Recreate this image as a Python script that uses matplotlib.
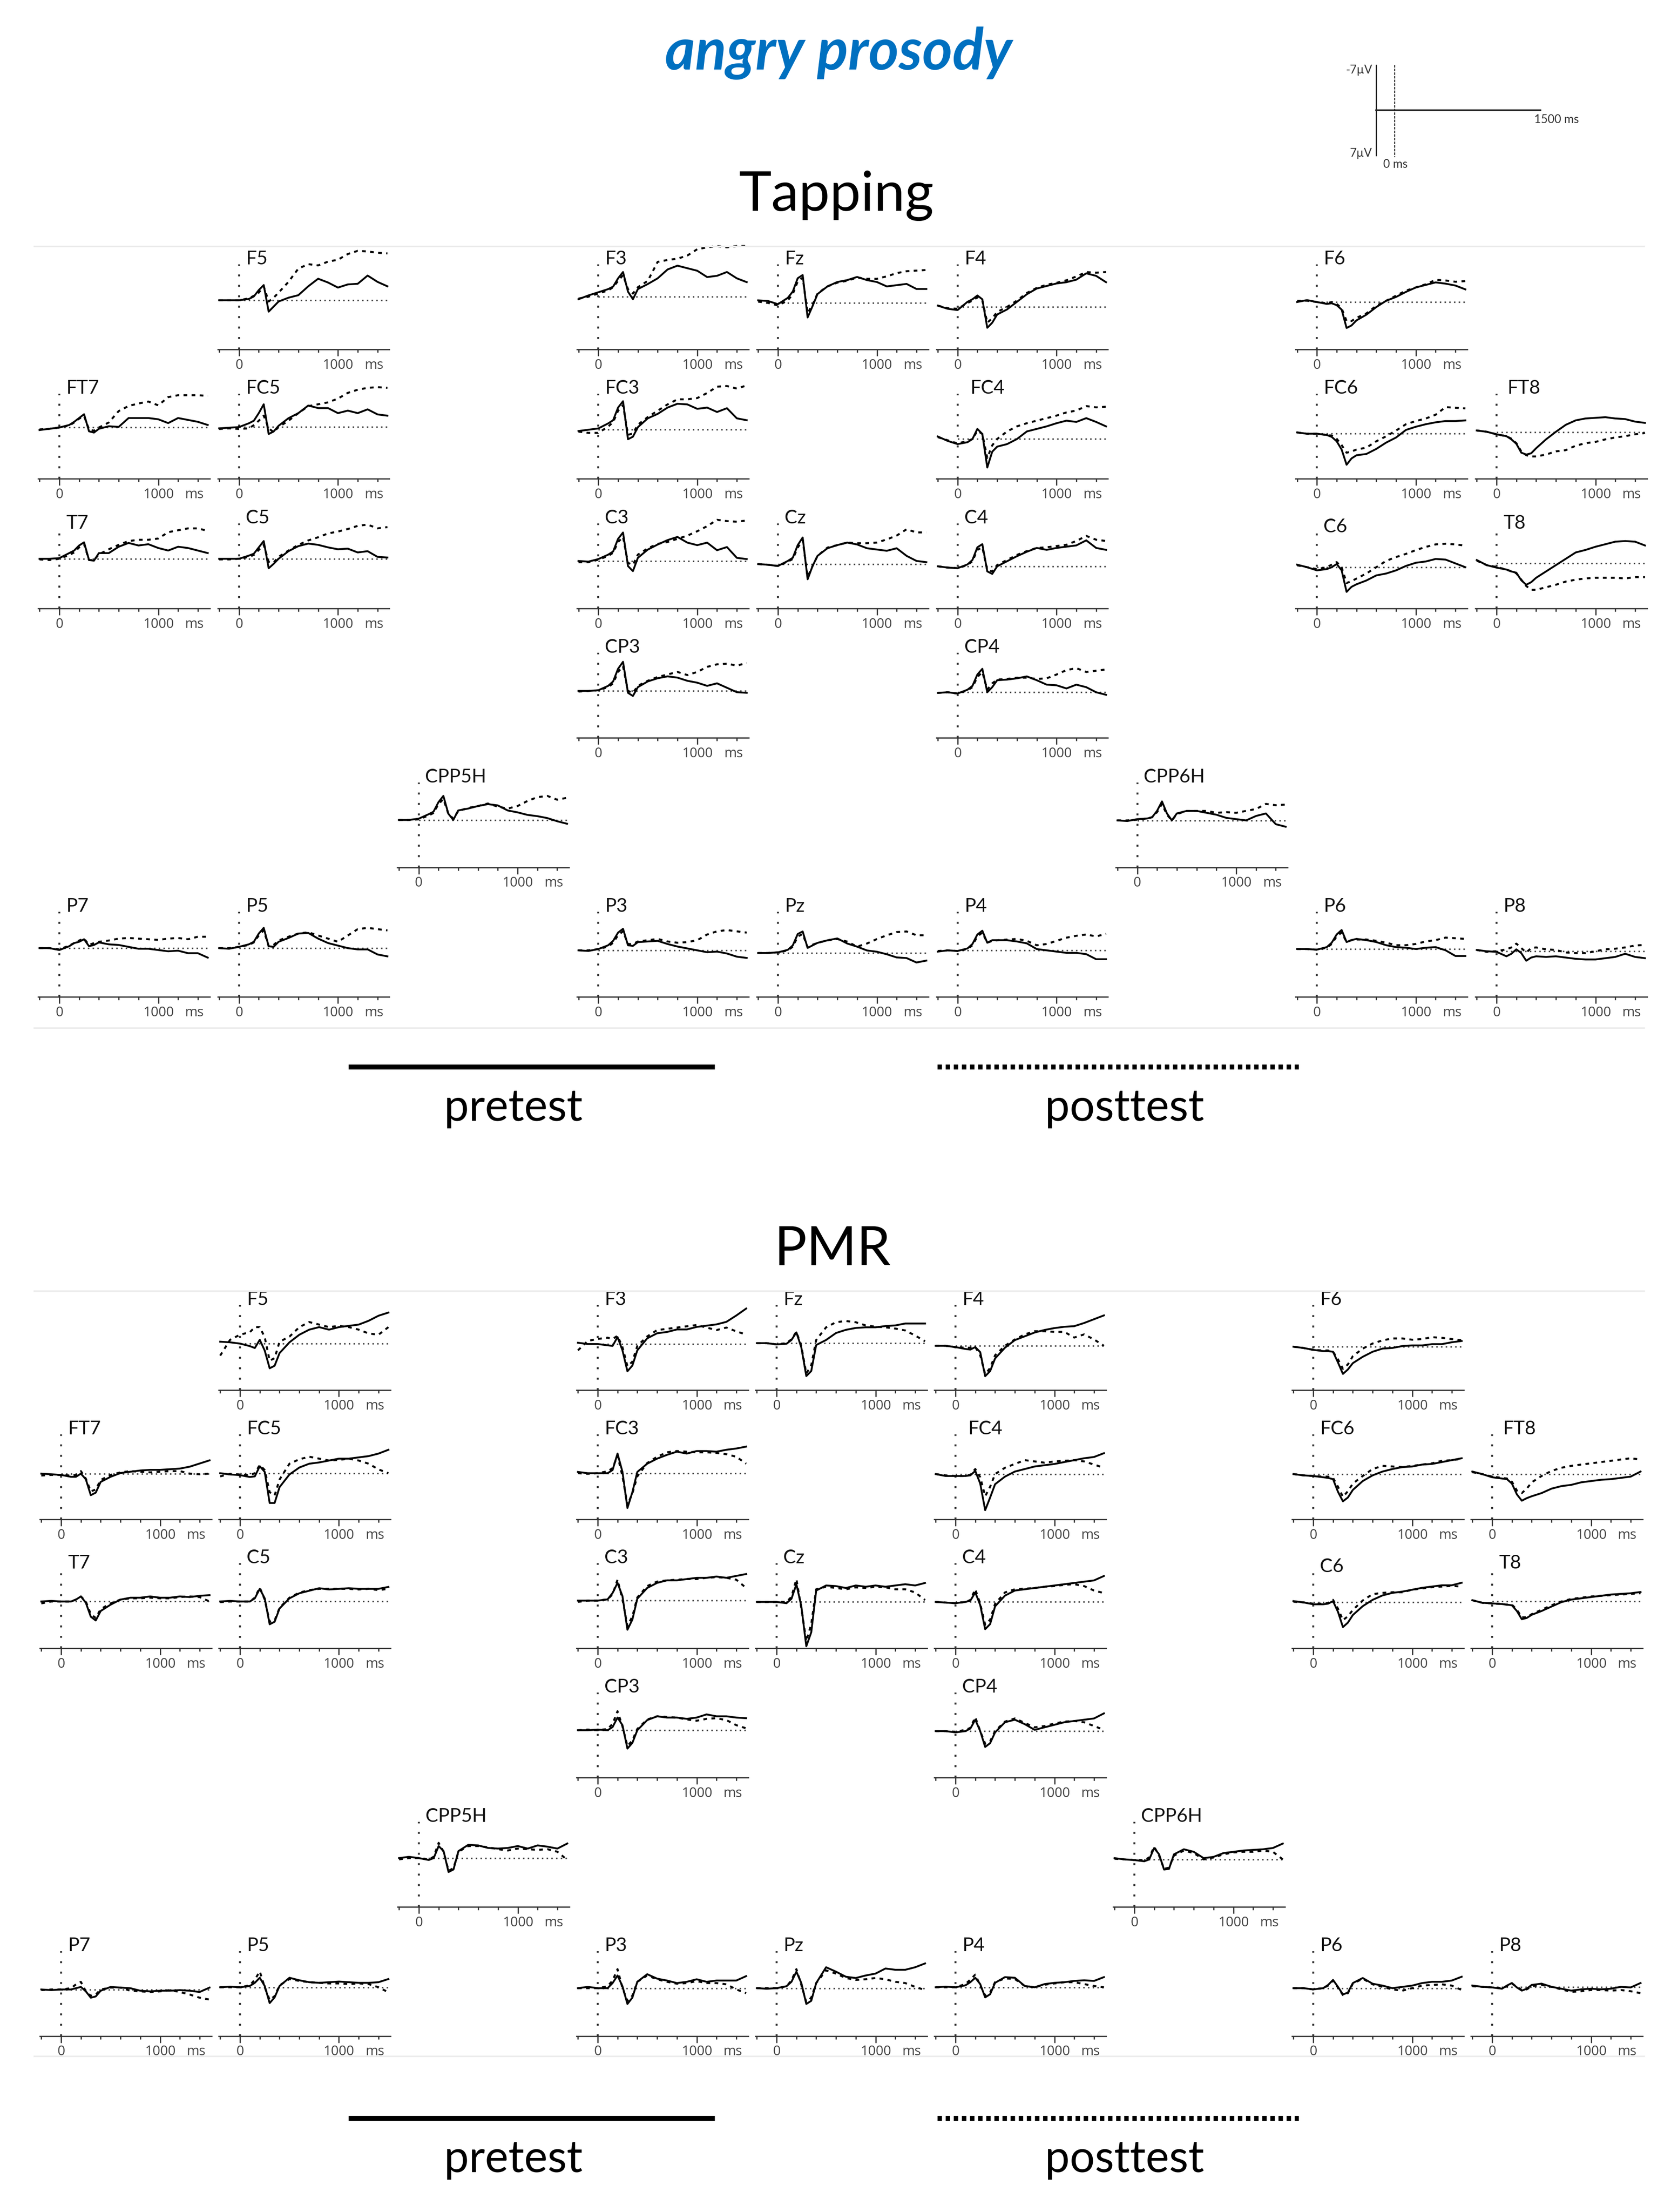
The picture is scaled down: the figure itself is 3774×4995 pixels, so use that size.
import matplotlib
matplotlib.use("Agg")
import matplotlib.pyplot as plt
from matplotlib.lines import Line2D

TIME_MS = [-200, -100, 0, 100, 150, 200, 250, 300, 350, 400, 500, 600,
           700, 800, 900, 1000, 1100, 1200, 1300, 1400, 1500]

# ---- Tapping, amplitudes in microvolt (negative plotted up) ----
TAP_F5_PRE = [0, 0, 0, -0.2, -0.6, -1.6, -2.4, 1.8, 1.0, 0.2, -0.4, -0.8, -2.2, -3.4, -2.8, -2.0, -2.5, -2.6, -3.9, -2.9, -2.2]
TAP_F5_POST = [0, 0, 0, -0.3, -0.7, -1.2, -2.2, 0.2, -0.4, -1.2, -2.9, -5.0, -5.7, -5.5, -6.1, -6.4, -7.3, -7.8, -7.7, -7.5, -7.4]
TAP_F3_PRE = [0.4, -0.2, -0.7, -1.2, -1.6, -2.9, -3.9, -0.8, 0.4, -1.2, -2.0, -2.9, -4.3, -4.9, -4.5, -4.1, -3.1, -3.3, -3.9, -2.9, -2.3]
TAP_F3_POST = [0.3, 0, -0.5, -1.0, -1.5, -2.5, -3.4, -1.2, -0.5, -1.5, -2.5, -5.5, -5.8, -6.0, -6.5, -7.5, -7.8, -8.0, -7.8, -8.0, -8.0]
TAP_FZ_PRE = [-0.4, -0.3, 0.2, -0.8, -1.8, -3.9, -4.4, 2.3, 0.5, -1.4, -2.6, -3.3, -3.6, -4.1, -3.6, -3.3, -2.6, -2.8, -3.0, -2.2, -2.2]
TAP_FZ_POST = [-0.2, 0, 0.4, -0.4, -1.4, -3.4, -4.0, 1.6, 0.3, -1.5, -2.6, -3.2, -3.5, -4.0, -3.8, -3.8, -4.2, -4.7, -5.0, -5.1, -5.2]
TAP_F4_PRE = [-0.2, 0.3, 0.5, -0.8, -1.2, -1.8, -1.2, 3.3, 2.5, 1.2, 0.4, -0.8, -2.0, -2.9, -3.3, -3.7, -3.9, -4.3, -5.3, -4.9, -3.9]
TAP_F4_POST = [-0.2, 0.2, 0.3, -0.6, -1.0, -1.5, -1.0, 2.5, 1.8, 0.8, 0.0, -1.0, -2.2, -3.0, -3.5, -3.8, -4.2, -4.8, -5.5, -5.4, -5.5]
TAP_F6_PRE = [0, -0.3, 0, 0.3, 0.2, 0.5, 1.2, 4.1, 3.7, 2.9, 2.0, 0.8, -0.2, -0.8, -1.6, -2.3, -2.7, -3.1, -2.9, -2.6, -2.0]
TAP_F6_POST = [-0.2, -0.2, 0, 0.2, 0, 0.3, 1.0, 3.0, 3.0, 2.5, 1.8, 0.6, -0.2, -1.0, -1.8, -2.3, -2.8, -3.5, -3.4, -3.2, -3.3]
TAP_FT7_PRE = [0.4, 0.2, 0, -0.4, -0.9, -1.5, -2.1, 0.6, 0.8, 0.2, -0.2, -0.1, -1.5, -1.5, -1.5, -1.3, -0.7, -1.5, -1.2, -0.9, -0.4]
TAP_FT7_POST = [0.3, 0.2, 0, -0.3, -0.8, -1.4, -1.8, 0.3, 0.5, 0, -0.8, -2.6, -3.4, -3.8, -4.1, -3.5, -4.8, -5.1, -5.1, -5.1, -5.0]
TAP_FC5_PRE = [0.2, 0.1, 0, -0.6, -1.0, -2.2, -3.6, 1.1, 0.7, -0.2, -1.4, -2.2, -3.4, -3.0, -3.0, -2.2, -2.6, -2.2, -2.8, -2.0, -1.8]
TAP_FC5_POST = [0.3, 0.2, 0.3, 0.2, -0.3, -1.0, -1.8, 0.2, 0.8, 0, -1.0, -2.2, -3.3, -3.6, -3.9, -4.5, -5.4, -5.9, -6.2, -6.3, -6.2]
TAP_FC3_PRE = [0.2, 0, -0.2, -1.0, -1.5, -3.5, -4.5, 1.5, 1.1, -0.4, -1.8, -2.5, -3.5, -4.1, -4.0, -3.3, -3.5, -2.8, -3.4, -1.8, -1.5]
TAP_FC3_POST = [0.3, 0.5, 0.5, -0.5, -1.2, -3.0, -3.9, 0.8, 0.6, -0.8, -2.0, -3.0, -4.0, -4.8, -4.8, -5.0, -5.8, -6.8, -6.9, -6.5, -7.0]
TAP_FC4_PRE = [-0.4, 0.3, 0.8, 0.5, 0, -1.6, -0.8, 4.5, 2.0, 1.2, 0.8, 0, -1.2, -1.6, -2.0, -2.5, -2.9, -2.7, -3.3, -2.7, -2.0]
TAP_FC4_POST = [-0.3, 0.2, 0.7, 0.3, 0, -1.3, -0.8, 3.0, 1.0, 0, -1.2, -2.0, -2.5, -2.9, -3.3, -3.7, -4.2, -4.5, -5.2, -5.0, -5.1]
TAP_FC6_PRE = [-0.2, 0, 0, 0.2, 0.5, 1.2, 2.5, 4.9, 3.9, 3.4, 3.2, 2.4, 1.4, 0.6, -0.6, -1.1, -1.5, -1.8, -2.0, -2.0, -2.1]
TAP_FC6_POST = [-0.2, 0, 0, 0.2, 0.3, 0.8, 1.8, 3.0, 2.8, 2.5, 2.2, 1.2, 0.4, -0.5, -1.5, -2.0, -2.4, -3.0, -4.2, -4.1, -4.0]
TAP_FT8_PRE = [-0.3, -0.1, 0.3, 0.6, 1.1, 1.8, 3.2, 3.5, 3.3, 2.5, 1.1, -0.1, -1.2, -1.9, -2.2, -2.3, -2.4, -2.2, -2.1, -1.7, -1.5]
TAP_FT8_POST = [-0.3, -0.1, 0.3, 0.6, 1.0, 1.7, 3.0, 3.6, 3.8, 3.8, 3.5, 3.0, 2.8, 2.1, 1.7, 1.5, 1.1, 0.8, 0.6, 0.3, 0.1]
TAP_T7_PRE = [0, 0, -0.1, -0.9, -1.3, -2.1, -2.6, 0.2, 0.3, -0.9, -0.9, -1.9, -2.5, -2.1, -2.3, -1.7, -1.3, -1.9, -1.7, -1.3, -0.9]
TAP_T7_POST = [0.1, 0.2, 0, -0.6, -1.0, -1.8, -2.3, 0.2, 0.2, -0.7, -1.5, -2.2, -2.8, -3.0, -3.0, -3.2, -4.2, -4.5, -4.8, -4.8, -4.4]
TAP_C5_PRE = [0, 0, 0, -0.5, -0.8, -1.8, -2.8, 1.5, 0.8, 0, -1.2, -2.0, -2.4, -2.2, -1.8, -1.5, -1.6, -1.0, -1.2, -0.3, -0.2]
TAP_C5_POST = [0.1, 0.1, 0, -0.3, -0.6, -1.4, -2.2, 0.5, 0.6, -0.3, -1.3, -2.2, -2.9, -3.4, -4.0, -4.3, -4.7, -5.2, -5.4, -4.8, -5.0]
TAP_C3_PRE = [0, 0.1, -0.3, -1.0, -1.5, -3.5, -4.5, 0.8, 1.6, -0.5, -1.8, -2.6, -3.3, -3.8, -2.9, -2.5, -2.9, -1.7, -2.2, -0.5, -0.3]
TAP_C3_POST = [0.2, 0.2, -0.2, -0.8, -1.3, -3.0, -3.8, 0.3, 0.6, -1.0, -2.0, -2.7, -3.0, -3.5, -4.0, -4.7, -5.5, -6.5, -6.3, -6.2, -6.4]
TAP_CZ_PRE = [0, 0.1, 0.3, -0.5, -1.0, -3.0, -4.2, 2.4, 0.3, -1.3, -2.5, -3.0, -3.4, -3.1, -2.5, -2.3, -2.1, -2.5, -1.3, -0.5, -0.3]
TAP_CZ_POST = [0, 0.1, 0.3, -0.4, -0.8, -2.6, -3.8, 2.0, 0.3, -1.3, -2.6, -3.0, -3.4, -3.3, -3.3, -3.4, -3.9, -4.5, -5.5, -5.0, -5.0]
TAP_C4_PRE = [0, 0.2, 0.3, -0.3, -1.0, -3.0, -3.5, 0.8, 1.2, 0, -0.8, -1.6, -2.3, -2.9, -2.6, -2.9, -3.1, -3.3, -4.1, -2.9, -2.6]
TAP_C4_POST = [0, 0.2, 0.3, -0.2, -0.8, -2.6, -3.0, 0.6, 0.8, -0.2, -1.0, -1.8, -2.4, -2.9, -3.0, -3.2, -3.4, -4.0, -4.8, -4.2, -4.0]
TAP_C6_PRE = [-0.4, 0, 0.5, 0.3, 0, -0.5, 0.5, 3.9, 3.1, 2.7, 2.1, 1.3, 1.0, 0.5, -0.2, -0.7, -0.9, -1.3, -1.2, -0.6, 0.0]
TAP_C6_POST = [-0.3, 0, 0.3, 0, -0.4, -0.8, 0, 2.5, 2.2, 1.8, 1.0, 0, -1.0, -1.6, -2.1, -2.7, -3.2, -3.6, -3.7, -3.6, -3.4]
TAP_T8_PRE = [-0.5, 0.3, 0.7, 1.0, 1.3, 1.5, 2.7, 3.4, 3.0, 2.3, 1.3, 0.3, -0.7, -1.7, -2.1, -2.6, -3.0, -3.4, -3.5, -3.4, -2.8]
TAP_T8_POST = [-0.4, 0.3, 0.6, 1.0, 1.3, 1.6, 2.6, 3.6, 4.2, 4.2, 3.8, 3.4, 2.9, 2.6, 2.4, 2.3, 2.3, 2.3, 2.4, 2.2, 2.2]
TAP_CP3_PRE = [0, 0, -0.1, -0.8, -1.5, -3.5, -4.6, 0.3, 0.8, -0.6, -1.5, -2.0, -2.3, -2.1, -1.6, -1.3, -0.8, -1.2, -0.5, 0.2, 0.3]
TAP_CP3_POST = [0.1, 0, -0.1, -0.6, -1.2, -3.0, -3.9, 0, 0.3, -0.8, -1.6, -2.2, -2.6, -3.0, -2.5, -3.0, -3.8, -4.2, -4.3, -4.0, -4.4]
TAP_CP4_PRE = [0.1, 0, 0.2, -0.4, -1.0, -2.8, -3.7, 0.0, -0.8, -1.9, -2.0, -2.2, -2.5, -1.9, -1.2, -1.1, -0.6, -1.2, -0.8, 0, 0.4]
TAP_CP4_POST = [0.1, 0, 0.2, -0.3, -0.8, -2.4, -3.2, -0.4, -1.4, -2.0, -2.1, -2.3, -2.3, -2.1, -2.2, -2.8, -3.5, -3.8, -3.2, -3.4, -3.6]
TAP_CPP5H_PRE = [0, 0, -0.2, -0.9, -1.3, -2.8, -3.8, -1.0, 0, -1.5, -1.8, -2.2, -2.5, -2.3, -1.5, -1.2, -0.8, -0.6, -0.3, 0.2, 0.6]
TAP_CPP5H_POST = [0, 0, -0.1, -0.7, -1.1, -2.5, -3.3, -1.0, -0.2, -1.4, -1.9, -2.2, -2.6, -2.1, -1.8, -2.2, -3.0, -3.6, -3.8, -3.2, -3.5]
TAP_CPP6H_PRE = [0, 0.1, -0.2, -0.3, -0.5, -1.5, -3.0, -1.1, 0, -1.1, -1.5, -1.5, -1.2, -0.9, -0.4, -0.2, 0, -0.7, -1.1, 0.6, 1.0]
TAP_CPP6H_POST = [0, 0, -0.1, -0.3, -0.5, -1.3, -2.6, -0.9, 0, -1.0, -1.5, -1.5, -1.5, -1.2, -1.3, -1.2, -1.5, -1.8, -2.6, -2.4, -2.5]
TAP_P7_PRE = [0, 0, 0.3, -0.3, -0.8, -1.0, -1.4, -0.3, -0.5, -0.9, -0.6, -0.5, -0.2, 0.1, 0.1, 0.3, 0.5, 0.4, 0.8, 0.8, 1.5]
TAP_P7_POST = [0, 0, 0.2, -0.4, -0.8, -1.2, -1.5, -0.5, -0.8, -1.0, -1.2, -1.5, -1.6, -1.5, -1.4, -1.3, -1.5, -1.6, -1.4, -1.8, -1.8]
TAP_P5_PRE = [0, 0.1, -0.2, -0.6, -1.0, -2.3, -3.2, -0.3, -0.2, -1.0, -1.6, -2.3, -2.4, -1.5, -0.8, -0.4, 0, 0.2, 0.2, 1.0, 1.3]
TAP_P5_POST = [0, 0, -0.2, -0.5, -0.9, -2.0, -2.8, -0.3, -0.5, -1.2, -1.8, -2.3, -2.5, -2.0, -1.5, -1.0, -2.0, -3.0, -3.2, -3.0, -2.8]
TAP_P3_PRE = [0, 0.1, -0.2, -0.8, -1.5, -2.8, -3.4, -0.8, -0.7, -1.3, -1.4, -1.5, -1.0, -0.6, -0.3, 0, 0.3, 0.2, 0.5, 1.0, 1.2]
TAP_P3_POST = [0, 0, -0.2, -0.6, -1.2, -2.4, -3.0, -1.0, -1.0, -1.4, -1.6, -1.8, -1.4, -1.2, -1.3, -1.6, -2.5, -3.0, -3.2, -3.0, -2.8]
TAP_PZ_PRE = [0, 0, -0.1, -0.5, -1.2, -3.0, -3.4, -0.8, -1.2, -1.6, -2.0, -2.3, -1.5, -1.0, -0.4, -0.2, 0.2, 0.7, 0.8, 1.5, 1.2]
TAP_PZ_POST = [0, 0, -0.1, -0.4, -1.0, -2.6, -3.0, -0.9, -1.3, -1.6, -2.0, -2.2, -1.8, -1.0, -1.5, -2.2, -2.8, -3.3, -3.4, -2.8, -2.8]
TAP_P4_PRE = [0.2, 0, 0.1, -0.3, -1.0, -2.5, -3.1, -1.2, -1.6, -1.6, -1.6, -1.4, -1.1, -0.2, 0, 0.2, 0.4, 0.4, 0.6, 1.4, 1.4]
TAP_P4_POST = [0.1, 0, 0.1, -0.2, -0.8, -2.2, -2.8, -1.2, -1.5, -1.6, -1.7, -1.8, -1.5, -0.8, -1.0, -1.5, -2.0, -2.3, -2.5, -2.2, -2.6]
TAP_P6_PRE = [0, 0, 0.1, -0.3, -1.0, -2.3, -3.0, -1.1, -1.4, -1.6, -1.4, -1.1, -0.6, -0.3, -0.2, 0, -0.2, -0.3, 0.2, 1.1, 1.1]
TAP_P6_POST = [0, 0, 0.1, -0.2, -0.8, -2.0, -2.6, -1.1, -1.4, -1.5, -1.5, -1.3, -1.0, -0.6, -0.6, -0.8, -1.2, -1.4, -1.8, -1.7, -1.6]
TAP_P8_PRE = [-0.2, 0, 0.1, 0.8, 0.4, -0.3, 0.3, 1.5, 1.0, 0.8, 0.9, 0.8, 1.0, 1.2, 1.3, 1.3, 1.1, 0.9, 0.4, 0.9, 1.1]
TAP_P8_POST = [-0.2, 0.1, 0, -0.3, -0.6, -1.2, -0.5, 0.2, -0.5, -0.6, -0.3, -0.2, 0.2, 0.3, 0.3, 0, -0.3, -0.4, -0.6, -0.9, -1.0]

# ---- PMR ----
PMR_F5_PRE = [-0.3, -0.2, 0, 0.4, 0.7, -0.6, 1.1, 3.9, 3.5, 1.5, -0.2, -1.4, -2.2, -2.6, -2.2, -2.6, -2.8, -3.0, -3.6, -4.4, -4.9]
PMR_F5_POST = [1.9, -0.6, -1.4, -1.8, -2.6, -2.6, -1.0, 2.7, 2.3, -0.3, -1.1, -2.6, -3.4, -3.0, -2.6, -2.8, -2.6, -2.2, -1.6, -1.4, -2.6]
PMR_F3_PRE = [-0.2, 0, 0, 0.2, 0.3, -1.1, 1.0, 4.3, 3.4, 1.0, -0.9, -1.7, -1.9, -2.3, -2.3, -2.7, -2.9, -3.1, -3.5, -4.5, -5.6]
PMR_F3_POST = [1.0, -0.5, -0.8, -1.0, -0.8, -1.3, 0.5, 3.5, 2.8, 0.3, -1.2, -2.2, -2.4, -2.6, -2.8, -3.0, -2.6, -2.2, -2.6, -2.0, -1.5]
PMR_FZ_PRE = [0, 0, 0.2, 0.1, -0.5, -1.7, 0.7, 5.2, 4.4, 0.3, -0.5, -1.6, -2.1, -2.4, -2.5, -2.5, -2.7, -2.8, -3.1, -3.1, -3.1]
PMR_FZ_POST = [0, 0, 0.2, 0, -0.6, -1.8, 0.5, 4.8, 3.5, -0.5, -2.5, -3.3, -3.5, -3.3, -2.8, -2.6, -2.5, -2.3, -2.0, -1.2, -0.3]
PMR_F4_PRE = [0, 0, 0.2, 0.5, 0.6, 0.2, 1.0, 4.8, 4.0, 2.0, 0.3, -0.9, -1.5, -2.1, -2.5, -2.8, -3.0, -3.1, -3.6, -4.2, -4.8]
PMR_F4_POST = [0, 0, 0.2, 0.3, 0.3, 0.2, 1.5, 4.5, 3.5, 1.5, 0, -1.0, -1.8, -2.3, -2.3, -2.2, -2.2, -1.3, -1.8, -1.0, 0]
PMR_F6_PRE = [0, 0.2, 0.5, 0.7, 0.7, 0.8, 2.5, 4.3, 3.6, 2.6, 1.6, 0.8, 0.3, 0.2, -0.1, -0.2, -0.2, -0.4, -0.4, -0.7, -0.9]
PMR_F6_POST = [0, 0.2, 0.5, 0.6, 0.6, 0.8, 2.0, 3.5, 2.8, 1.5, 0.3, -0.5, -1.0, -1.3, -1.3, -1.1, -1.2, -1.5, -1.4, -1.2, -1.0]
PMR_FT7_PRE = [0, 0.1, 0.2, 0.5, 0.5, 0, 0.9, 3.4, 3.0, 1.3, 0.5, -0.1, -0.3, -0.5, -0.6, -0.6, -0.7, -0.8, -1.1, -1.6, -2.1]
PMR_FT7_POST = [0.3, 0.2, 0.2, 0.3, 0.2, -0.4, 0.8, 2.8, 2.5, 1.0, 0.2, -0.2, -0.4, -0.3, -0.2, -0.3, -0.4, -0.4, 0, 0.1, 0]
PMR_FC5_PRE = [0, 0.2, 0.3, 0.6, 0.5, -1.1, -0.2, 4.7, 4.7, 2.2, 0.2, -0.9, -1.5, -1.7, -2.0, -2.3, -2.3, -2.5, -2.7, -3.1, -3.7]
PMR_FC5_POST = [0.5, 0.1, 0.2, 0.3, 0, -1.3, -0.5, 3.0, 3.5, 1.0, -1.5, -2.2, -2.6, -2.3, -2.0, -2.1, -2.3, -2.0, -1.5, -0.6, 0]
PMR_FC3_PRE = [-0.2, 0, 0, 0, -0.5, -3.1, -0.2, 5.5, 3.0, -0.2, -1.5, -2.3, -2.9, -3.4, -3.1, -3.5, -3.5, -3.4, -3.7, -3.9, -4.2]
PMR_FC3_POST = [0, 0.1, 0, -0.3, -0.8, -2.8, 0.5, 5.0, 3.2, 0.5, -1.6, -2.6, -3.3, -3.5, -3.4, -3.3, -3.3, -3.2, -3.0, -2.6, -1.5]
PMR_FC4_PRE = [0, 0.3, 0.3, 0.3, 0.2, -0.5, 1.5, 5.7, 3.7, 1.6, 0.4, -0.4, -0.8, -1.2, -1.4, -1.6, -1.9, -2.2, -2.5, -2.7, -3.3]
PMR_FC4_POST = [0, 0.2, 0.3, 0.3, 0.1, -0.8, 0.5, 3.5, 2.0, 0, -1.0, -1.6, -2.2, -2.0, -1.8, -2.0, -2.1, -2.2, -2.0, -1.5, -1.0]
PMR_FC6_PRE = [0, 0.2, 0.3, 0.5, 0.6, 0.8, 2.8, 4.3, 3.7, 2.5, 1.1, 0.2, -0.4, -0.8, -1.1, -1.2, -1.5, -1.6, -1.9, -2.2, -2.5]
PMR_FC6_POST = [0, 0.2, 0.3, 0.4, 0.4, 0.6, 2.0, 3.6, 2.7, 1.5, 0.3, -0.8, -1.3, -1.2, -1.1, -1.3, -1.5, -1.7, -2.1, -2.2, -2.4]
PMR_FT8_PRE = [-0.4, 0, 0.5, 0.7, 0.8, 1.5, 3.2, 4.2, 3.8, 3.5, 3.0, 2.3, 1.9, 1.7, 1.3, 1.1, 0.9, 0.8, 0.6, 0.4, -0.4]
PMR_FT8_POST = [-0.3, 0, 0.4, 0.6, 0.7, 1.2, 2.6, 3.0, 2.3, 1.3, 0.3, -0.5, -1.0, -1.3, -1.5, -1.7, -1.9, -2.1, -2.3, -2.5, -2.3]
PMR_T7_PRE = [0, -0.1, 0, 0, -0.3, -0.8, 0.2, 2.4, 3.0, 1.5, 0.5, -0.3, -0.6, -0.6, -0.8, -0.6, -0.6, -0.8, -0.7, -0.9, -1.0]
PMR_T7_POST = [0.3, 0, 0, 0, -0.3, -0.8, 0, 2.0, 2.6, 1.2, 0.3, -0.3, -0.5, -0.5, -0.6, -0.5, -0.5, -0.7, -0.8, -0.7, 0]
PMR_C5_PRE = [0, -0.1, 0, 0, -0.5, -2.0, -0.5, 3.6, 3.2, 1.1, -0.5, -1.3, -1.7, -2.1, -1.9, -2.0, -2.1, -2.0, -2.0, -2.0, -2.3]
PMR_C5_POST = [0.1, 0, 0, 0, -0.6, -2.2, -0.3, 3.2, 3.0, 1.0, -0.6, -1.4, -1.8, -2.0, -2.0, -2.0, -2.0, -1.9, -2.0, -1.8, -2.0]
PMR_C3_PRE = [0, 0, 0, -0.2, -1.2, -2.8, -0.7, 4.6, 3.0, -0.3, -2.0, -2.8, -3.2, -3.2, -3.4, -3.6, -3.6, -3.8, -3.6, -3.9, -4.2]
PMR_C3_POST = [0.2, 0, 0, -0.2, -1.0, -3.3, -0.2, 4.0, 2.5, -0.5, -2.3, -3.0, -3.2, -3.3, -3.4, -3.4, -3.6, -3.7, -3.6, -3.3, -2.0]
PMR_CZ_PRE = [0, 0, 0, 0.2, -0.5, -2.8, 0.7, 7.0, 4.8, -1.8, -2.6, -2.5, -2.2, -2.6, -2.4, -2.6, -2.4, -2.6, -2.8, -2.6, -3.0]
PMR_CZ_POST = [0, 0, 0, 0, -0.8, -3.6, 1.0, 6.2, 3.5, -2.0, -2.4, -2.2, -2.0, -2.3, -2.2, -2.4, -2.3, -2.0, -2.0, -1.5, -0.3]
PMR_C4_PRE = [0, 0.1, 0.2, 0, -0.2, -1.5, 0.5, 4.3, 3.5, 0.7, -1.0, -1.8, -2.0, -2.2, -2.4, -2.6, -2.8, -3.0, -3.2, -3.4, -4.1]
PMR_C4_POST = [0, 0.1, 0.2, 0, -0.3, -2.0, 0.3, 3.6, 2.8, 0.3, -1.5, -2.0, -2.1, -2.2, -2.4, -2.5, -2.7, -2.8, -2.5, -1.8, -1.4]
PMR_C6_PRE = [-0.2, 0, 0.3, 0.3, 0.2, -0.2, 1.5, 3.9, 3.2, 2.0, 0.6, -0.4, -1.1, -1.5, -1.7, -2.0, -2.3, -2.5, -2.7, -2.7, -3.1]
PMR_C6_POST = [-0.1, 0, 0.2, 0.2, 0.1, -0.4, 1.0, 2.8, 2.2, 1.2, -0.3, -1.3, -1.5, -1.6, -1.6, -2.0, -2.2, -2.4, -2.5, -2.6, -2.5]
PMR_T8_PRE = [-0.2, 0.2, 0.3, 0.4, 0.5, 0.6, 1.5, 2.8, 2.6, 2.1, 1.5, 0.8, 0.1, -0.3, -0.5, -0.7, -0.9, -1.1, -1.2, -1.3, -1.5]
PMR_T8_POST = [-0.2, 0.2, 0.3, 0.4, 0.5, 0.5, 1.3, 2.5, 2.5, 2.0, 1.3, 0.6, 0, -0.4, -0.6, -0.8, -0.9, -1.0, -1.1, -1.2, -1.3]
PMR_CP3_PRE = [0, 0, -0.1, 0, -0.5, -2.0, -0.8, 2.9, 2.0, 0, -1.6, -2.2, -2.0, -2.0, -1.8, -2.0, -2.5, -2.2, -2.2, -2.0, -1.9]
PMR_CP3_POST = [0, -0.1, 0, -0.2, -1.0, -3.0, -0.6, 2.5, 1.6, -0.2, -1.7, -2.2, -2.1, -2.0, -1.7, -1.5, -1.8, -1.9, -1.6, -0.8, -0.3]
PMR_CP4_PRE = [0, 0, 0.2, 0, -0.4, -1.8, 0, 2.5, 1.9, 0.2, -1.4, -1.8, -1.1, -0.2, -0.6, -1.0, -1.4, -1.6, -1.8, -2.0, -2.8]
PMR_CP4_POST = [0, 0, 0.1, -0.2, -0.5, -2.2, 0, 2.0, 1.6, 0, -1.5, -2.0, -1.3, -0.6, -0.8, -1.2, -1.5, -1.6, -1.4, -0.8, -0.2]
PMR_CPP5H_PRE = [0, -0.2, 0, 0.3, 0, -1.9, -1.1, 2.2, 1.8, -1.1, -2.1, -2.0, -1.6, -1.5, -1.6, -1.9, -1.5, -2.0, -1.8, -1.5, -2.3]
PMR_CPP5H_POST = [0.2, 0, 0, 0.2, -0.2, -2.4, -1.0, 2.0, 1.6, -1.0, -1.9, -1.9, -1.7, -1.4, -1.2, -1.5, -1.4, -1.3, -1.4, -1.0, 0.3]
PMR_CPP6H_PRE = [-0.2, 0, 0.1, 0.3, 0, -1.8, -0.8, 1.6, 1.5, -0.8, -1.6, -1.2, -0.2, -0.4, -1.0, -1.2, -1.4, -1.5, -1.6, -1.8, -2.5]
PMR_CPP6H_POST = [-0.1, 0, 0.1, 0.1, -0.3, -2.0, -0.6, 1.5, 1.3, -0.6, -1.4, -1.0, 0, -0.3, -0.8, -1.1, -1.2, -1.2, -1.4, -1.2, 0]
PMR_P7_PRE = [0, 0.1, 0, 0, -0.2, -0.4, 0.3, 1.3, 1.1, 0.2, -0.4, -0.3, -0.2, 0.2, 0.3, 0.2, 0.2, 0.1, 0.2, 0.4, -0.3]
PMR_P7_POST = [0.1, 0, 0, -0.2, -0.8, -1.2, 0.3, 1.0, 0.8, 0, -0.3, -0.3, 0.2, 0.3, 0.4, 0.3, 0.1, 0.4, 0.8, 1.3, 1.6]
PMR_P5_PRE = [0, -0.1, 0, -0.2, -0.7, -1.5, -0.2, 2.5, 1.6, -0.2, -1.5, -1.1, -0.8, -0.7, -0.8, -0.9, -0.8, -0.7, -0.7, -0.8, -1.3]
PMR_P5_POST = [0, 0, 0, -0.3, -1.2, -2.5, 0, 2.0, 1.4, -0.3, -1.3, -1.0, -0.8, -0.7, -0.6, -0.6, -0.5, -0.6, -0.5, 0, 0.8]
PMR_P3_PRE = [0, -0.2, 0, 0, -0.8, -2.0, -0.3, 2.5, 1.5, -1.0, -2.2, -1.5, -1.2, -0.8, -1.0, -1.4, -1.0, -1.2, -1.2, -1.2, -1.9]
PMR_P3_POST = [0, 0, 0, -0.3, -1.2, -3.0, 0, 2.0, 1.2, -1.0, -2.0, -1.4, -1.0, -0.7, -0.8, -1.1, -0.8, -0.8, -0.6, 0.2, 0.8]
PMR_PZ_PRE = [0, 0.1, 0, -0.3, -1.0, -2.6, -0.8, 2.5, 2.0, -0.8, -3.3, -2.6, -1.8, -1.6, -2.0, -2.3, -3.1, -2.9, -2.9, -3.3, -3.9]
PMR_PZ_POST = [0, 0, 0, -0.3, -1.2, -3.0, -0.5, 2.2, 1.5, -0.8, -2.8, -2.3, -1.6, -1.3, -1.4, -1.6, -1.4, -1.0, -0.8, -0.2, 0.3]
PMR_P4_PRE = [0, -0.1, 0, -0.3, -0.8, -1.5, -0.5, 1.6, 1.1, -0.7, -1.6, -1.5, -0.2, 0, -0.5, -0.7, -0.8, -1.0, -1.1, -1.0, -1.6]
PMR_P4_POST = [0, 0, 0, -0.5, -1.2, -2.0, -0.3, 1.3, 0.8, -0.8, -1.4, -1.3, -0.2, 0, -0.4, -0.6, -0.8, -0.8, -0.5, -0.2, 0]
PMR_P6_PRE = [0, 0, 0.2, 0, -0.5, -1.3, -0.2, 1.0, 0.7, -0.8, -1.6, -0.7, -0.4, 0, -0.2, -0.4, -0.8, -1.0, -1.0, -1.2, -1.8]
PMR_P6_POST = [0, 0, 0.2, 0, -0.4, -1.2, -0.1, 1.1, 0.8, -0.7, -1.5, -0.6, -0.2, 0.2, 0.4, 0, -0.4, -0.5, -0.6, -0.4, 0.3]
PMR_P8_PRE = [-0.2, 0, 0.1, 0.3, -0.2, -0.6, 0.1, 0.6, 0.3, -0.3, -0.5, 0, 0.3, 0.6, 0.4, 0.3, 0.4, 0.3, 0, 0.1, -0.6]
PMR_P8_POST = [-0.1, 0, 0.1, 0.2, -0.1, -0.5, 0, 0.5, 0.4, -0.1, -0.3, 0, 0.4, 0.8, 0.7, 0.5, 0.5, 0.6, 0.5, 0.7, 1.0]

# scale bar values
SCALE_UV = 7
SCALE_MS = 1500

TAPPING = {
    "F5": (TAP_F5_PRE, TAP_F5_POST), "F3": (TAP_F3_PRE, TAP_F3_POST),
    "Fz": (TAP_FZ_PRE, TAP_FZ_POST), "F4": (TAP_F4_PRE, TAP_F4_POST),
    "F6": (TAP_F6_PRE, TAP_F6_POST), "FT7": (TAP_FT7_PRE, TAP_FT7_POST),
    "FC5": (TAP_FC5_PRE, TAP_FC5_POST), "FC3": (TAP_FC3_PRE, TAP_FC3_POST),
    "FC4": (TAP_FC4_PRE, TAP_FC4_POST), "FC6": (TAP_FC6_PRE, TAP_FC6_POST),
    "FT8": (TAP_FT8_PRE, TAP_FT8_POST), "T7": (TAP_T7_PRE, TAP_T7_POST),
    "C5": (TAP_C5_PRE, TAP_C5_POST), "C3": (TAP_C3_PRE, TAP_C3_POST),
    "Cz": (TAP_CZ_PRE, TAP_CZ_POST), "C4": (TAP_C4_PRE, TAP_C4_POST),
    "C6": (TAP_C6_PRE, TAP_C6_POST), "T8": (TAP_T8_PRE, TAP_T8_POST),
    "CP3": (TAP_CP3_PRE, TAP_CP3_POST), "CP4": (TAP_CP4_PRE, TAP_CP4_POST),
    "CPP5H": (TAP_CPP5H_PRE, TAP_CPP5H_POST), "CPP6H": (TAP_CPP6H_PRE, TAP_CPP6H_POST),
    "P7": (TAP_P7_PRE, TAP_P7_POST), "P5": (TAP_P5_PRE, TAP_P5_POST),
    "P3": (TAP_P3_PRE, TAP_P3_POST), "Pz": (TAP_PZ_PRE, TAP_PZ_POST),
    "P4": (TAP_P4_PRE, TAP_P4_POST), "P6": (TAP_P6_PRE, TAP_P6_POST),
    "P8": (TAP_P8_PRE, TAP_P8_POST),
}
PMR = {
    "F5": (PMR_F5_PRE, PMR_F5_POST), "F3": (PMR_F3_PRE, PMR_F3_POST),
    "Fz": (PMR_FZ_PRE, PMR_FZ_POST), "F4": (PMR_F4_PRE, PMR_F4_POST),
    "F6": (PMR_F6_PRE, PMR_F6_POST), "FT7": (PMR_FT7_PRE, PMR_FT7_POST),
    "FC5": (PMR_FC5_PRE, PMR_FC5_POST), "FC3": (PMR_FC3_PRE, PMR_FC3_POST),
    "FC4": (PMR_FC4_PRE, PMR_FC4_POST), "FC6": (PMR_FC6_PRE, PMR_FC6_POST),
    "FT8": (PMR_FT8_PRE, PMR_FT8_POST), "T7": (PMR_T7_PRE, PMR_T7_POST),
    "C5": (PMR_C5_PRE, PMR_C5_POST), "C3": (PMR_C3_PRE, PMR_C3_POST),
    "Cz": (PMR_CZ_PRE, PMR_CZ_POST), "C4": (PMR_C4_PRE, PMR_C4_POST),
    "C6": (PMR_C6_PRE, PMR_C6_POST), "T8": (PMR_T8_PRE, PMR_T8_POST),
    "CP3": (PMR_CP3_PRE, PMR_CP3_POST), "CP4": (PMR_CP4_PRE, PMR_CP4_POST),
    "CPP5H": (PMR_CPP5H_PRE, PMR_CPP5H_POST), "CPP6H": (PMR_CPP6H_PRE, PMR_CPP6H_POST),
    "P7": (PMR_P7_PRE, PMR_P7_POST), "P5": (PMR_P5_PRE, PMR_P5_POST),
    "P3": (PMR_P3_PRE, PMR_P3_POST), "Pz": (PMR_PZ_PRE, PMR_PZ_POST),
    "P4": (PMR_P4_PRE, PMR_P4_POST), "P6": (PMR_P6_PRE, PMR_P6_POST),
    "P8": (PMR_P8_PRE, PMR_P8_POST),
}

# layout: (column, row) of each electrode in the head map grid
GRID = {
    "F5": (1, 0), "F3": (3, 0), "Fz": (4, 0), "F4": (5, 0), "F6": (7, 0),
    "FT7": (0, 1), "FC5": (1, 1), "FC3": (3, 1), "FC4": (5, 1), "FC6": (7, 1), "FT8": (8, 1),
    "T7": (0, 2), "C5": (1, 2), "C3": (3, 2), "Cz": (4, 2), "C4": (5, 2), "C6": (7, 2), "T8": (8, 2),
    "CP3": (3, 3), "CP4": (5, 3),
    "CPP5H": (2, 4), "CPP6H": (6, 4),
    "P7": (0, 5), "P5": (1, 5), "P3": (3, 5), "Pz": (4, 5), "P4": (5, 5), "P6": (7, 5), "P8": (8, 5),
}
# pixel distance between the zero line and the time axis of each panel
TAP_OFFSET = {"F5": 111, "F3": 119, "Fz": 105, "F4": 96, "F6": 107,
              "FT7": 116, "FC5": 117, "FC3": 111, "FC4": 90, "FC6": 102, "FT8": 105,
              "T7": 112, "C5": 112, "C3": 107, "Cz": 100, "C4": 95, "C6": 93, "T8": 102,
              "CP3": 106, "CP4": 103, "CPP5H": 107, "CPP6H": 106,
              "P7": 110, "P5": 110, "P3": 105, "Pz": 99, "P4": 105, "P6": 108, "P8": 103}
PMR_OFFSET = {"F5": 105, "F3": 104, "Fz": 106, "F4": 100, "F6": 98,
              "FT7": 103, "FC5": 104, "FC3": 104, "FC4": 102, "FC6": 102, "FT8": 102,
              "T7": 106, "C5": 106, "C3": 108, "Cz": 105, "C4": 105, "C6": 104, "T8": 106,
              "CP3": 107, "CP4": 105, "CPP5H": 110, "CPP6H": 107,
              "P7": 105, "P5": 110, "P3": 108, "Pz": 108, "P4": 110, "P6": 108, "P8": 111}
LABEL_DX = {"FC4": 125, "FT8": 110}
LABEL_DY = {"C6": 20, "T8": 12, "T7": 12}

W, H = 3774, 4995
PX_MS = 0.2235
PX_UV = 14.3
PANEL_H = 250
AX_COL = "#333333"
TXT_COL = "#444444"


def fx(px):
    return px / W


def fy(py):
    return 1 - py / H


def draw_panel(fig, name, pre, post, zero_x, axis_y, offset):
    left = zero_x - 215 * PX_MS
    ax = fig.add_axes([fx(left), fy(axis_y), 1735 * PX_MS / W, PANEL_H / H])
    y_bot = offset / PX_UV
    y_top = -(PANEL_H - offset) / PX_UV
    ax.set_xlim(-215, 1520)
    ax.set_ylim(y_bot, y_top)
    ax.patch.set_alpha(0)
    for s in ["top", "left", "right"]:
        ax.spines[s].set_visible(False)
    ax.spines["bottom"].set_linewidth(2.0)
    ax.spines["bottom"].set_color(AX_COL)
    ax.set_yticks([])
    ax.set_xticks([0, 1000])
    ax.set_xticklabels(["0", "1000"])
    ax.set_xticks([-200, 200, 400, 600, 800, 1200, 1400], minor=True)
    ax.tick_params(axis="x", which="major", length=11, width=2.0, pad=4,
                   labelsize=22, labelcolor=TXT_COL, color=AX_COL)
    ax.tick_params(axis="x", which="minor", length=5, width=2.0, color=AX_COL)
    for lbl in ax.get_xticklabels():
        lbl.set_fontfamily("Open Sans")
    ax.annotate("ms", xy=(1365, y_bot), xytext=(0, -15), textcoords="offset points",
                ha="center", va="top", fontsize=22, color=TXT_COL, family="Open Sans")

    # zero reference lines
    dy = LABEL_DY.get(name, 0)
    ax.plot([0, 0], [y_bot, (offset - 192 + dy) / PX_UV], color="#333333", lw=3.2,
            linestyle=(0, (1, 4.3)))
    ax.plot([0, 1500], [0, 0], color="#444444", lw=2.4, linestyle=(0, (1, 2.2)))

    ax.plot(TIME_MS, post, color="black", lw=3.2, linestyle=(0, (1.9, 2.2)), clip_on=False)
    ax.plot(TIME_MS, pre, color="black", lw=3.0, clip_on=False, solid_joinstyle="round")

    ax.text(LABEL_DX.get(name, 67), (offset - 204 + dy) / PX_UV, name, ha="left", va="center",
            fontsize=31, color="#111111", family="Lato")


def draw_section(fig, data, offsets, zero0, dcol, axis0, drow):
    for name, (pre, post) in data.items():
        col, row = GRID[name]
        draw_panel(fig, name, pre, post, zero0 + dcol * col, axis0 + drow * row, offsets[name])


def hline(fig, x0, x1, y, **kw):
    fig.add_artist(Line2D([fx(x0), fx(x1)], [fy(y), fy(y)], transform=fig.transFigure, **kw))


def main():
    fig = plt.figure(figsize=(W / 100, H / 100), dpi=100)
    fig.patch.set_facecolor("white")

    fig.text(fx(1894), fy(157), "angry prosody", ha="center", va="baseline", fontsize=94,
             fontweight="bold", fontstyle="italic", color="#0070C0", family="Lato")
    fig.text(fx(1889), fy(476), "Tapping", ha="center", va="baseline", fontsize=90,
             color="black", family="Lato")
    fig.text(fx(1881), fy(2857), "PMR", ha="center", va="baseline", fontsize=88,
             color="black", family="Lato")

    # light frame lines around each grid
    for y in (556, 2321, 2915, 4643):
        hline(fig, 77, 3713, y, color="#ebebeb", lw=2.5)

    draw_section(fig, TAPPING, TAP_OFFSET, 134, 405.75, 789, 292.4)
    draw_section(fig, PMR, PMR_OFFSET, 138, 404, 3139, 291.7)

    # legends
    for ly, ty in ((2409, 2531), (4783, 4905)):
        hline(fig, 787, 1614, ly, color="black", lw=8, solid_capstyle="butt")
        hline(fig, 2117, 2933, ly, color="black", lw=8, linestyle=(0, (0.9, 0.75)))
        fig.text(fx(1159), fy(ty), "pretest", ha="center", va="baseline", fontsize=72,
                 family="Lato")
        fig.text(fx(2540), fy(ty), "posttest", ha="center", va="baseline", fontsize=72,
                 family="Lato")

    # scale bar
    sx = 0.2195
    suv = 14.57
    sax = fig.add_axes([fx(3080), fy(400), 480 / W, 280 / H])
    sax.set_xlim((3080 - 3150) / sx, (3560 - 3150) / sx)
    sax.set_ylim((400 - 249) / suv, (120 - 249) / suv)
    sax.axis("off")
    sax.plot([-190, -190], [-SCALE_UV, SCALE_UV], color="#111111", lw=1.8)
    sax.plot([0, 0], [-SCALE_UV, SCALE_UV + 0.3], color="#111111", lw=1.6,
             linestyle=(0, (2.5, 1.2)))
    sax.plot([-190, SCALE_MS], [0, 0], color="#222222", lw=2.8)
    sax.text(-232, -6.2, f"-{SCALE_UV}\u00b5V", ha="right", va="center", fontsize=19,
             color="#333333", family="Lato")
    sax.text(-232, 6.7, f"{SCALE_UV}\u00b5V", ha="right", va="center", fontsize=19,
             color="#333333", family="Lato")
    sax.text(1663, 1.5, f"{SCALE_MS} ms", ha="center", va="center", fontsize=19,
             color="#333333", family="Lato")
    sax.text(9, 8.4, "0 ms", ha="center", va="center", fontsize=19,
             color="#333333", family="Lato")

    fig.savefig("out.png", dpi=100, facecolor="white")


if __name__ == "__main__":
    main()
